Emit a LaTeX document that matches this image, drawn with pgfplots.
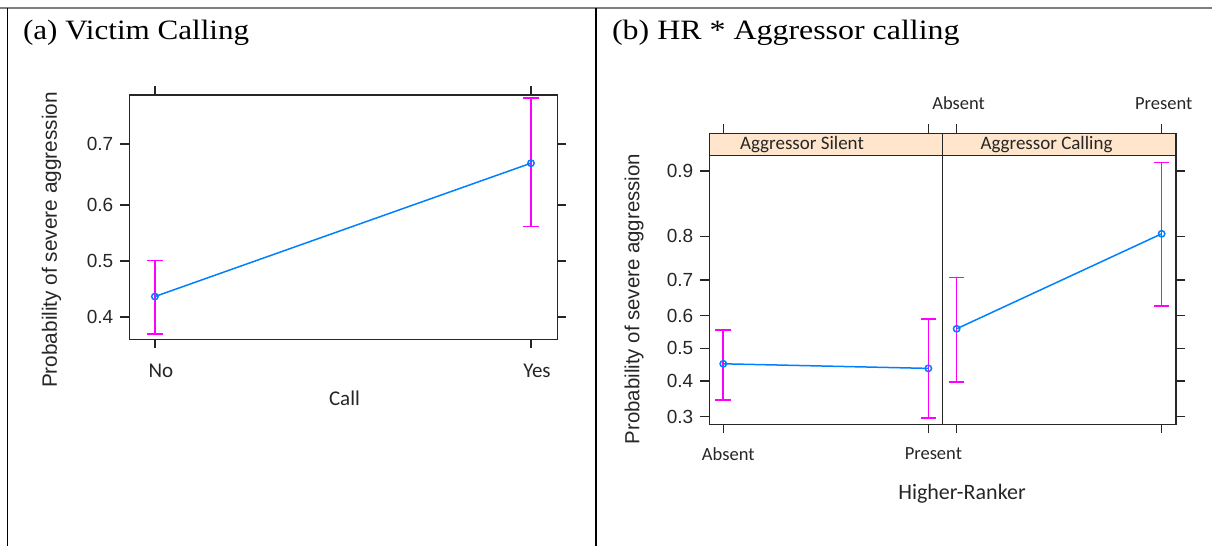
\documentclass[border=0pt]{standalone}
\usepackage{fontspec}
\setmainfont{Carlito}
\newfontfamily\arialf{Liberation Sans}
\newfontfamily\seriff{Liberation Serif}
\usepackage{graphicx}
\usepackage{pgfplots}
\pgfplotsset{compat=1.18}

\definecolor{effblue}{HTML}{0080FF}
\definecolor{effmag}{HTML}{FF00FF}
\definecolor{stripbg}{HTML}{FFE5CC}
\definecolor{boxcol}{HTML}{262626}

\pgfplotsset{
  logit/.style={
    y coord trafo/.code={\pgfmathparse{ln(##1/(1-##1))}},
    y coord inv trafo/.code={\pgfmathparse{1/(1+exp(-##1))}},
  },
  effpanel/.style={
    logit, scale only axis, axis on top,
    xmin=-0.068, xmax=1.07,
    xtick={0,1},
    tick align=outside, major tick length=4.5pt,
    axis line style={boxcol, line width=0.7pt},
    every tick/.style={boxcol, line width=0.7pt},
    /pgf/number format/assume math mode=true,
    yticklabel style={font=\arialf\fontsize{9.5}{11}\selectfont, text=boxcol},
    clip=false,
  },
  cibar/.style={effmag, line width=0.8pt, mark=-, mark size=3.9pt},
  fitline/.style={effblue, line width=0.75pt, mark=o, mark size=1.6pt},
}

\begin{document}
\begin{tikzpicture}
\useasboundingbox (0,0) rectangle (606pt,273pt);

% table rules
\draw[gray, line width=1pt] (0,268.85pt) -- (606pt,268.85pt);
\draw[black, line width=0.8pt] (3.65pt,268.85pt) -- (3.65pt,0);
\draw[black, line width=0.8pt] (298pt,268.85pt) -- (298pt,0);

% titles
\node[anchor=base west, inner sep=0, font=\seriff\fontsize{14}{16}\selectfont]
  at (11.35pt,253.35pt) {\scalebox{1.11}[1]{(a) Victim Calling}};
\node[anchor=base west, inner sep=0, font=\seriff\fontsize{14}{16}\selectfont]
  at (305.85pt,253.35pt) {\scalebox{1.14}[1]{(b) HR * Aggressor calling}};

% (a) victim calling
\begin{axis}[effpanel,
  at={(64.65pt,103.35pt)}, anchor=south west,
  width=214pt, height=122.15pt,
  ymin=0.3619, ymax=0.7689,
  ytick={0.4,0.5,0.6,0.7}, yticklabels={0.4,0.5,0.6,0.7},
  xticklabels={No,Yes},
  xtick pos=both, xticklabel pos=lower,
  ytick pos=both, yticklabel pos=left,
  xticklabel style={font=\fontsize{10.5}{12}\selectfont, text=boxcol, xshift=3pt, yshift=-4.5pt},
]
\addplot[cibar] coordinates {(0,0.371) (0,0.501)};
\addplot[cibar] coordinates {(1,0.562) (1,0.765)};
\addplot[fitline] coordinates {(0,0.436) (1,0.670)};
\end{axis}
\node[rotate=90, font=\arialf\fontsize{10.4}{12}\selectfont, text=boxcol] at (25.75pt,153pt) {Probability of severe aggression};
\node[font=\fontsize{10.5}{12}\selectfont, text=boxcol] at (172.25pt,74pt) {Call};

% (b) higher-ranker by aggressor calling
\begin{axis}[effpanel,
  at={(354.65pt,60.85pt)}, anchor=south west,
  width=116.7pt, height=145.5pt,
  ymin=0.2805, ymax=0.9348,
  ytick={0.3,0.4,0.5,0.6,0.7,0.8,0.9}, yticklabels={0.3,0.4,0.5,0.6,0.7,0.8,0.9},
  xticklabels={Absent,Present},
  xtick pos=both, xticklabel pos=lower,
  ytick pos=left,
  xticklabel style={font=\fontsize{9.25}{11}\selectfont, text=boxcol, xshift=2.5pt, yshift=-3.5pt},
]
\fill[stripbg] (rel axis cs:0,0.923) rectangle (rel axis cs:1,1);
\draw[boxcol, line width=0.7pt] (rel axis cs:0,0.923) -- (rel axis cs:1,0.923);
\addplot[cibar] coordinates {(0,0.345) (0,0.557)};
\addplot[cibar] coordinates {(1,0.297) (1,0.590)};
\addplot[fitline] coordinates {(0,0.452) (1,0.438)};
\end{axis}

\begin{axis}[effpanel,
  at={(471.35pt,60.85pt)}, anchor=south west,
  width=116.65pt, height=145.5pt,
  ymin=0.2805, ymax=0.9348,
  ytick={0.3,0.4,0.5,0.6,0.7,0.8,0.9}, yticklabels={},
  xticklabels={Absent,Present},
  xtick pos=both, xticklabel pos=upper,
  ytick pos=right,
  xticklabel style={font=\fontsize{9.25}{11}\selectfont, text=boxcol, xshift=1pt, yshift=4pt},
]
\fill[stripbg] (rel axis cs:0,0.923) rectangle (rel axis cs:1,1);
\draw[boxcol, line width=0.7pt] (rel axis cs:0,0.923) -- (rel axis cs:1,0.923);
\addplot[cibar] coordinates {(0,0.397) (0,0.706)};
\addplot[cibar] coordinates {(1,0.628) (1,0.909)};
\addplot[fitline] coordinates {(0,0.560) (1,0.805)};
\end{axis}

\node[font=\fontsize{9.5}{11}\selectfont, text=boxcol] at (401pt,200.5pt) {Aggressor Silent};
\node[font=\fontsize{9.5}{11}\selectfont, text=boxcol] at (523.25pt,200.5pt) {Aggressor Calling};
\node[rotate=90, font=\arialf\fontsize{10.2}{12}\selectfont, text=boxcol] at (317pt,123.5pt) {Probability of severe aggression};
\node[font=\fontsize{11}{13}\selectfont, text=boxcol] at (481pt,26pt) {Higher-Ranker};
\end{tikzpicture}
\end{document}
